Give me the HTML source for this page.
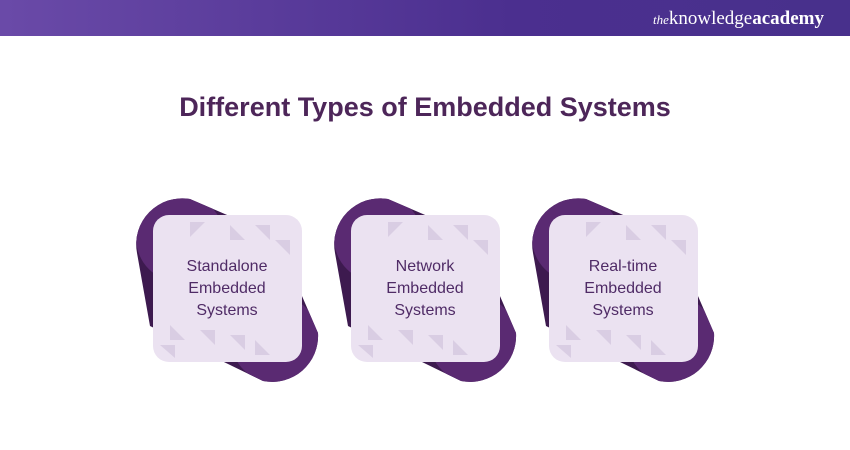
<!DOCTYPE html>
<html><head><style>
body{margin:0;width:850px;height:450px;background:#fff;overflow:hidden;font-family:"Liberation Sans",sans-serif;position:relative}
.hdr{position:absolute;left:0;top:0;width:850px;height:36px;background:linear-gradient(90deg,#6a4aa8,#4b2f8f 60%,#48308c)}
.logo{position:absolute;right:26px;top:8px;color:#fff;font-family:"Liberation Serif",serif;font-size:19px}
.logo i{font-size:13px}
h1{position:absolute;top:92px;left:0;width:850px;text-align:center;margin:0;font-size:27px;font-weight:bold;color:#4d2659}
.t{position:absolute;width:150px;text-align:center;font-size:16px;line-height:22px;color:#4f2b66;top:256px}
</style></head><body>
<div class="hdr"><div class="logo"><i>the</i>knowledge<b>academy</b></div></div>
<h1>Different Types of Embedded Systems</h1>
<svg width="850" height="450" style="position:absolute;left:0;top:0">
<defs>
<clipPath id="cp"><path d="M190,199 L276,236 L318,333 A46,46 0 0 1 263,381 L150,326 L137,253 A46,46 0 0 1 190,199 Z"/></clipPath>
<g id="c">
<path d="M190,199 L276,236 L318,333 A46,46 0 0 1 263,381 L150,326 L137,253 A46,46 0 0 1 190,199 Z" fill="#3d1a4f"/>
<g clip-path="url(#cp)" fill="#5a2a72">
<circle cx="180" cy="238" r="44"/>
<circle cx="275" cy="339" r="44"/>
</g>
<rect x="153" y="215" width="149" height="147" rx="16" fill="#ebe2f1"/>
<g fill="#d9cde3">
<polygon points="190,222 205,222 190,237"/><polygon points="230,225 245,240 230,240"/><polygon points="255,225 270,225 270,240"/><polygon points="275,240 290,240 290,255"/>
<polygon points="170,325 185,340 170,340"/><polygon points="200,330 215,330 215,345"/><polygon points="230,335 245,335 245,350"/><polygon points="160,345 175,345 175,358"/><polygon points="255,340 270,355 255,355"/>
</g>
</g>
</defs>
<use href="#c"/><use href="#c" x="198"/><use href="#c" x="396"/>
</svg>
<div class="t" style="left:152px">Standalone<br>Embedded<br>Systems</div>
<div class="t" style="left:350px">Network<br>Embedded<br>Systems</div>
<div class="t" style="left:548px">Real-time<br>Embedded<br>Systems</div>
</body></html>
